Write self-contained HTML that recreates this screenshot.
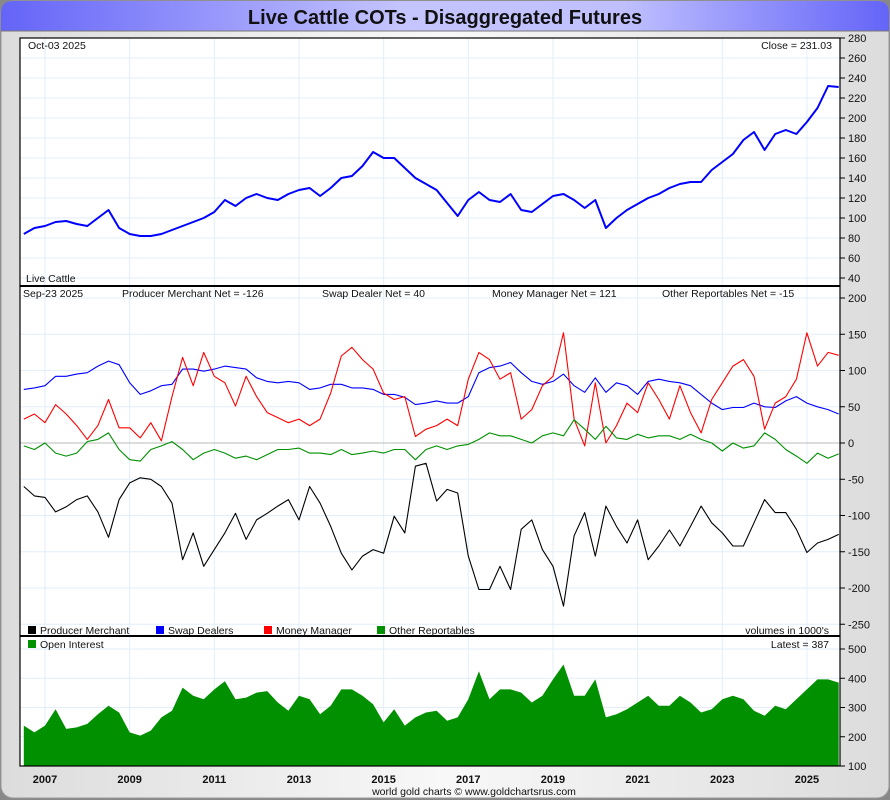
<!DOCTYPE html>
<html><head><meta charset="utf-8"><style>
body{margin:0;width:890px;height:800px;overflow:hidden;font-family:"Liberation Sans",sans-serif}
</style></head><body>
<svg width="890" height="800" xmlns="http://www.w3.org/2000/svg" id="chart" font-family="Liberation Sans, sans-serif">
<defs>
<linearGradient id="tg" x1="0" x2="1"><stop offset="0" stop-color="#6464f8"/><stop offset="0.45" stop-color="#c4c4ff"/><stop offset="0.7" stop-color="#c0c0ff"/><stop offset="1" stop-color="#6464f8"/></linearGradient>
<linearGradient id="bg" x1="0" x2="1"><stop offset="0" stop-color="#dcdcdc"/><stop offset="0.5" stop-color="#f8f8f8"/><stop offset="1" stop-color="#dcdcdc"/></linearGradient>
</defs>
<rect x="0" y="0" width="890" height="800" fill="#888"/>
<rect x="1" y="1" width="888" height="797" rx="12" fill="url(#bg)" stroke="#999"/>
<path d="M1 31 V13 Q1 1 13 1 H877 Q889 1 889 13 V31 Z" fill="url(#tg)"/>
<line x1="1" y1="31" x2="889" y2="31" stroke="#777"/>
<text x="445" y="24" text-anchor="middle" font-size="20" font-weight="bold" fill="#111">Live Cattle COTs - Disaggregated Futures</text>
<rect x="20" y="38" width="820" height="728" fill="#fff"/>
<g id="grid"></g>
<g id="series"></g>
<rect x="20" y="38" width="820" height="728" fill="none" stroke="#000" stroke-width="1.2"/>
<line x1="20" y1="286" x2="840" y2="286" stroke="#000" stroke-width="2"/>
<line x1="20" y1="636" x2="840" y2="636" stroke="#000" stroke-width="2"/>
<g id="axes" font-size="11" fill="#111"></g>
<g font-size="10.5" fill="#111">
<text x="28" y="49">Oct-03  2025</text>
<text x="832" y="49" text-anchor="end">Close = 231.03</text>
<text x="26" y="282">Live Cattle</text>
<text x="23" y="297">Sep-23  2025</text>
<text x="122" y="297">Producer Merchant Net = -126</text>
<text x="322" y="297">Swap Dealer Net = 40</text>
<text x="492" y="297">Money Manager Net = 121</text>
<text x="662" y="297">Other Reportables Net = -15</text>
<g>
<rect x="28" y="626" width="8" height="8" fill="#000"/><text x="40" y="634">Producer Merchant</text>
<rect x="156" y="626" width="8" height="8" fill="#0000ff"/><text x="168" y="634">Swap Dealers</text>
<rect x="264" y="626" width="8" height="8" fill="#ff0000"/><text x="276" y="634">Money Manager</text>
<rect x="377" y="626" width="8" height="8" fill="#009000"/><text x="389" y="634">Other Reportables</text>
</g>
<text x="829" y="634" text-anchor="end">volumes in 1000's</text>
<rect x="28" y="640" width="8" height="8" fill="#009000"/><text x="40" y="648">Open Interest</text>
<text x="829" y="648" text-anchor="end">Latest = 387</text>
<text x="474" y="795" text-anchor="middle" font-size="10.5">world gold charts © www.goldchartsrus.com</text>
</g>
</svg>
<script>
const t0 = 2006.5, dt = 0.25;
const price = [84,90,92,96,97,94,92,100,108,90,84,82,82,84,88,92,96,100,106,118,112,120,124,120,118,124,128,130,122,130,140,142,152,166,160,160,150,140,134,128,115,102,118,126,118,116,124,108,106,114,122,124,118,110,118,90,100,108,114,120,124,130,134,136,136,148,156,164,178,186,168,184,188,184,196,210,232,231];
const producer = [-60,-73,-75,-95,-88,-78,-73,-95,-130,-78,-55,-48,-50,-60,-83,-161,-124,-170,-147,-124,-97,-133,-106,-97,-87,-78,-106,-60,-83,-115,-152,-175,-156,-147,-152,-101,-124,-32,-28,-80,-64,-69,-156,-202,-202,-170,-202,-119,-106,-147,-170,-225,-128,-96,-156,-87,-115,-138,-106,-161,-142,-120,-142,-115,-87,-110,-124,-142,-142,-110,-78,-96,-96,-119,-151,-138,-133,-126];
const swap = [74,76,79,92,92,95,97,106,113,108,83,67,72,79,81,102,102,99,102,106,104,102,90,85,83,85,83,74,76,81,81,76,76,74,67,67,63,53,55,58,55,55,64,97,104,106,111,97,85,81,85,95,79,70,90,70,83,79,67,85,88,85,83,79,67,55,46,49,49,55,50,49,58,64,55,50,46,40];
const money = [33,40,28,53,40,24,5,24,60,21,21,7,28,3,64,118,79,125,92,83,51,92,64,42,35,28,33,24,33,69,120,132,115,102,69,60,64,9,19,24,33,24,88,125,115,88,97,33,46,79,92,152,33,-4,83,0,24,55,42,83,60,33,79,42,14,60,83,106,115,92,19,55,64,88,152,106,125,121];
const other = [-4,-9,0,-14,-18,-14,2,5,14,-9,-23,-25,-9,-4,2,-9,-23,-14,-9,-14,-21,-18,-23,-16,-9,-9,-7,-14,-14,-16,-9,-16,-14,-11,-14,-9,-9,-23,-9,-4,-9,-4,-2,5,14,10,10,5,0,10,14,10,32,19,5,23,7,5,12,7,10,10,5,12,5,0,-11,0,-7,-4,14,5,-9,-18,-28,-14,-21,-15];
const openInterest = [238,215,238,294,227,232,244,277,306,283,215,204,221,266,289,368,340,328,362,390,328,334,351,356,317,289,340,328,277,306,362,362,340,311,249,294,238,266,283,289,255,266,328,424,328,362,362,351,317,340,396,447,340,340,396,266,277,294,317,340,306,306,340,317,283,294,328,340,328,289,272,306,294,328,362,396,396,385];
const yearTicks = [2007,2009,2011,2013,2015,2017,2019,2021,2023,2025];
const priceTicks = [40,60,80,100,120,140,160,180,200,220,240,260,280];
const cotTicks = [-250,-200,-150,-100,-50,0,50,100,150,200];
const oiTicks = [100,200,300,400,500];

const NS = 'http://www.w3.org/2000/svg';
const xScale = t => 45 + (t - 2007) * 42.33;
const yPrice = v => 38 + (280 - v);
const yCot = v => 443 - v * 0.725;
const yOI = v => 766 - (v - 100) * 0.2925;
function mk(tag, attrs, parent){const e=document.createElementNS(NS,tag);for(const k in attrs)e.setAttribute(k,attrs[k]);parent.appendChild(e);return e;}
const grid = document.getElementById('grid'), series = document.getElementById('series'), axes = document.getElementById('axes');
const gc = '#e2eef8';
yearTicks.forEach(y=>{const x=xScale(y);
  const l=mk('line',{x1:x,x2:x,y1:38,y2:766,stroke:gc},grid);
  
  
  const t=mk('text',{x:x,y:783,'text-anchor':'middle','font-weight':'bold','font-size':'11'},axes);t.textContent=y;
  
  
});
function yAxis(ticks, f, name, lo, hi){ticks.forEach(v=>{const y=f(v);
  if(y>lo && y<hi){const g=mk('line',{x1:20,x2:840,y1:y,y2:y,stroke:v===0&&name==='cot'?'#bbb':gc},grid);
    
    }
  mk('line',{x1:840,x2:845,y1:y,y2:y,stroke:'#000'},axes);
  const t=mk('text',{x:848,y:y+4},axes);t.textContent=v;
  
  
});}
yAxis(priceTicks,yPrice,'price',39,285);
yAxis(cotTicks,yCot,'cot',287,635);
yAxis(oiTicks,yOI,'oi',637,765);
function pts(arr,f){return arr.map((v,i)=>xScale(t0+i*dt).toFixed(1)+','+f(v).toFixed(1)).join(' ');}
const oiPts = pts(openInterest,yOI);
const oiArea = mk('polygon',{points:xScale(t0).toFixed(1)+',766 '+oiPts+' '+xScale(t0+(openInterest.length-1)*dt).toFixed(1)+',766',fill:'#009000'},series);


[[price,yPrice,'#0000ff',2,'price-line'],[swap,yCot,'#0000ff',1.1,'swap-dealers-line'],[money,yCot,'#ff0000',1.1,'money-manager-line'],[other,yCot,'#009000',1.1,'other-reportables-line'],[producer,yCot,'#000',1.1,'producer-merchant-line']].forEach(s=>{
  const p=mk('polyline',{points:pts(s[0],s[1]),fill:'none',stroke:s[2],'stroke-width':s[3],'stroke-linejoin':'round'},series);
  
  
});
</script>
</body></html>
